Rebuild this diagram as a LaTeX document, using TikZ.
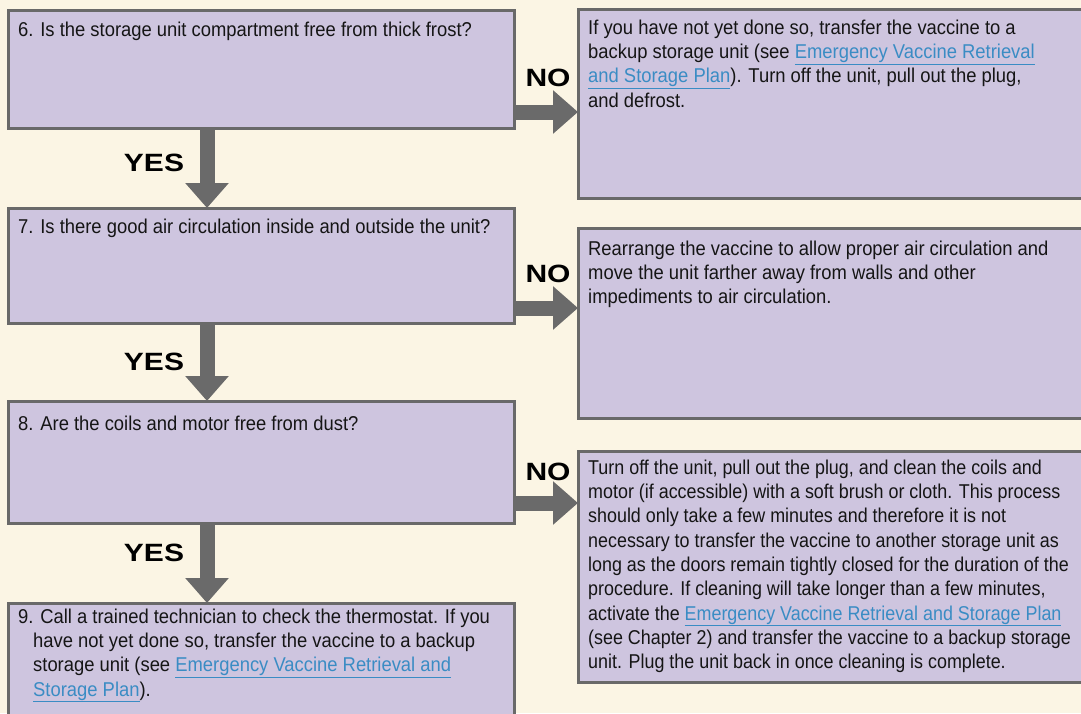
\documentclass[tikz,border=0pt]{standalone}
\usepackage{fontspec}
\setmainfont[FakeStretch=0.92]{Liberation Sans}
\newfontfamily\narrowfont[FakeStretch=0.895]{Liberation Sans}
\newfontfamily\lblfont[FakeStretch=1.2]{Liberation Sans}
\usetikzlibrary{arrows.meta,calc}
\definecolor{bgcream}{HTML}{FBF5E4}
\definecolor{boxfill}{HTML}{CEC5DF}
\definecolor{boxline}{HTML}{696969}
\definecolor{arrowgray}{HTML}{6A6A6A}
\definecolor{linkblue}{HTML}{3A8CC4}
\definecolor{txtblack}{HTML}{151515}
\newcommand{\lnk}[1]{\textcolor{linkblue}{\underline{#1}}}
\begin{document}
\begin{tikzpicture}[x=1pt,y=-1pt,
  qbox/.style={draw=boxline, fill=boxfill, line width=3pt, inner sep=0pt, outer sep=0pt, anchor=north west, rectangle},
  txt/.style={anchor=north west, inner sep=0pt, align=left, text=txtblack, font=\fontsize{20}{24.3}\selectfont},
  lbl/.style={inner sep=0pt, text=black, font=\lblfont\bfseries\fontsize{25}{25}\selectfont},
  bigarrow/.style={draw=arrowgray, line width=15pt, -{Triangle[width=42pt,length=25pt]}}]
\useasboundingbox (0,0) rectangle (1081,713);
\clip (0,0) rectangle (1081,713);
\fill[bgcream] (0,0) rectangle (1081,713);

% question boxes
\node[qbox, minimum width=506pt, minimum height=118pt] (q6) at (8,10) {};
\node[qbox, minimum width=506pt, minimum height=115pt] (q7) at (8,208) {};
\node[qbox, minimum width=506pt, minimum height=122pt] (q8) at (8,401) {};
\node[qbox, minimum width=506pt, minimum height=130pt] (q9) at (8,603) {};

% answer boxes
\node[qbox, minimum width=530pt, minimum height=189pt] (r1) at (578,9) {};
\node[qbox, minimum width=530pt, minimum height=190pt] (r2) at (578,228) {};
\node[qbox, minimum width=530pt, minimum height=231pt] (r3) at (578,451) {};

% texts
\node[txt] (t6) at (18,19) {\strut 6. Is the storage unit compartment free from thick frost?};
\node[txt] (t7) at (18,216) {\strut 7. Is there good air circulation inside and outside the unit?};
\node[txt] (t8) at (18,413) {\strut 8. Are the coils and motor free from dust?};
\node[txt] (t9) at (18,606) {\strut 9. Call a trained technician to check the thermostat. If you\\
\hspace*{15pt}have not yet done so, transfer the vaccine to a backup\\
\hspace*{15pt}storage unit (see \lnk{Emergency Vaccine Retrieval and}\\
\hspace*{15pt}\lnk{Storage Plan}).};

\node[txt] (s1) at (588,17) {\strut If you have not yet done so, transfer the vaccine to a\\
backup storage unit (see \lnk{Emergency Vaccine Retrieval}\\
\lnk{and Storage Plan}). Turn off the unit, pull out the plug,\\
and defrost.};
\node[txt] (s2) at (588,238) {\strut Rearrange the vaccine to allow proper air circulation and\\
move the unit farther away from walls and other\\
impediments to air circulation.};
\node[txt, font=\narrowfont\fontsize{20}{24.3}\selectfont] (s3) at (588,457) {\strut Turn off the unit, pull out the plug, and clean the coils and\\
motor (if accessible) with a soft brush or cloth. This process\\
should only take a few minutes and therefore it is not\\
necessary to transfer the vaccine to another storage unit as\\
long as the doors remain tightly closed for the duration of the\\
procedure. If cleaning will take longer than a few minutes,\\
activate the \lnk{Emergency Vaccine Retrieval and Storage Plan}\\
(see Chapter 2) and transfer the vaccine to a backup storage\\
unit. Plug the unit back in once cleaning is complete.};

% YES arrows
\draw[bigarrow] ([xshift=199pt]q6.south west) -- ([xshift=199pt]q7.north west);
\draw[bigarrow] ([xshift=199pt]q7.south west) -- ([xshift=199pt]q8.north west);
\draw[bigarrow] ([xshift=199pt]q8.south west) -- ([xshift=199pt]q9.north west);

% NO arrows
\coordinate (n1) at ([yshift=-43pt]q6.east);
\coordinate (n2) at ([yshift=-42.5pt]q7.east);
\coordinate (n3) at ([yshift=-41pt]q8.east);
\draw[bigarrow] (n1) -- (n1 -| r1.west);
\draw[bigarrow] (n2) -- (n2 -| r2.west);
\draw[bigarrow] (n3) -- (n3 -| r3.west);

% labels
\node[lbl] (y1) at (154,163) {YES};
\node[lbl] (y2) at (154,362) {YES};
\node[lbl] (y3) at (154,553) {YES};
\node[lbl] (no1) at (548,78) {NO};
\node[lbl] (no2) at (548,274) {NO};
\node[lbl] (no3) at (548,472) {NO};
\end{tikzpicture}
\end{document}
